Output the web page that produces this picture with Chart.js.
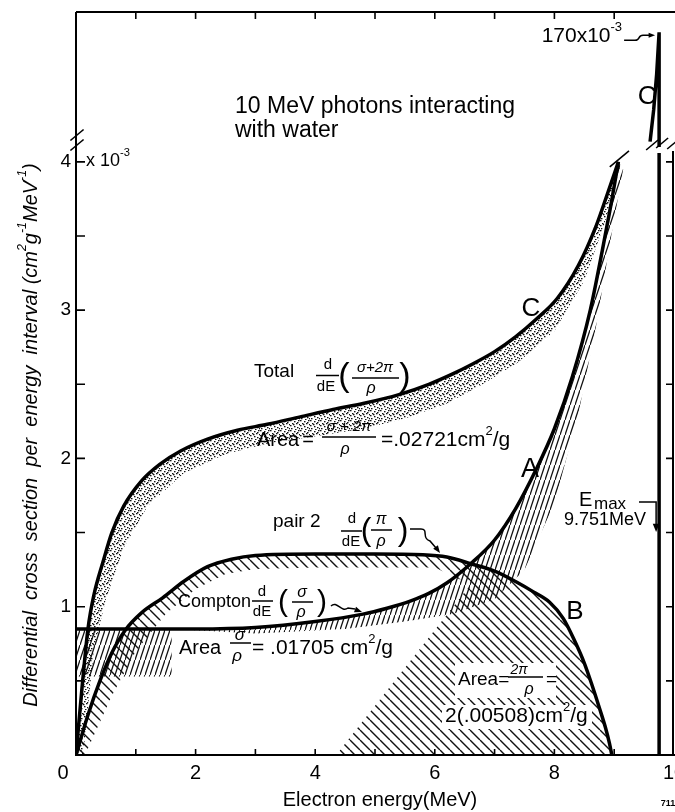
<!DOCTYPE html>
<html>
<head>
<meta charset="utf-8">
<title>10 MeV photons interacting with water</title>
<script src="https://cdn.jsdelivr.net/npm/chart.js@4.4.1/dist/chart.umd.min.js"></script>
<style>
  html, body { margin: 0; padding: 0; background: #fff; overflow: hidden; }
  canvas { display: block; }
</style>
</head>
<body>
<canvas id="myChart" width="700" height="812"></canvas>
<script>
/* globals Chart:false */

// tick labels
const xTickLabels = ['0', '2', '4', '6', '8', '10']
const yTickLabels = ['1', '2', '3', '4']

// curve C, total d/dE((σ+2π)/ρ), 10^-3 cm²g⁻¹MeV⁻¹, electron energy in MeV
const totalE = [0, 0.1, 0.2, 0.3, 0.45, 0.6, 0.8, 1.1, 1.4, 1.75, 2.2, 2.7, 3.2, 3.75, 4.3, 4.8, 5.4, 5.9, 6.3, 6.6, 7.0, 7.35, 7.7, 8.05, 8.4, 8.7, 8.9, 9.07]
const totalV = [0, 0.45, 0.85, 1.08, 1.3, 1.5, 1.68, 1.85, 1.96, 2.05, 2.13, 2.19, 2.23, 2.28, 2.33, 2.37, 2.43, 2.5, 2.57, 2.63, 2.72, 2.82, 2.94, 3.08, 3.3, 3.57, 3.8, 4.0]
// C above the axis break, on its own scale (10^-3)
const totalTopE = [9.6, 9.66, 9.71, 9.751, 9.751]
const totalTopV = [8, 55, 108, 170, 0]
// E max line below the break
const emaxE = [9.751, 9.751]
const emaxV = [0, 4.06]

// curve A, Compton d/dE(σ/ρ)
const comptonE = [0, 1, 2, 3, 4.0, 4.8, 5.2, 5.6, 5.9, 6.2, 6.6, 7.0, 7.35, 7.7, 8.0, 8.3, 8.6, 8.8, 8.95, 9.07]
const comptonV = [0.85, 0.85, 0.85, 0.86, 0.9, 0.95, 0.99, 1.04, 1.09, 1.16, 1.29, 1.45, 1.66, 1.93, 2.2, 2.55, 3.0, 3.4, 3.72, 4.0]

// curve B, pair 2 d/dE(π/ρ)
const pairE = [0, 0.2, 0.4, 0.6, 0.82, 1.1, 1.45, 1.8, 2.2, 2.6, 3.0, 4.0, 5.0, 5.8, 6.2, 6.6, 7.0, 7.35, 7.65, 7.92, 8.15, 8.35, 8.5, 8.63, 8.75, 8.85, 8.92, 8.96]
const pairV = [0, 0.27, 0.5, 0.69, 0.84, 0.96, 1.06, 1.17, 1.27, 1.32, 1.345, 1.355, 1.355, 1.35, 1.335, 1.29, 1.24, 1.17, 1.1, 1.03, 0.92, 0.76, 0.62, 0.47, 0.32, 0.19, 0.08, 0]

// inner edges of the shaded areas
const comptonBlockE = [0, 1.6, 1.6, 0]
const comptonBlockV = [0.85, 0.85, 0.53, 0.53]
const comptonEdgeE = [9.15, 8.95, 8.7, 8.4, 8.0, 7.5, 7.0, 6.3, 5.5, 4.5, 3.0, 1.6]
const comptonEdgeV = [3.95, 3.5, 2.9, 2.3, 1.7, 1.25, 1.05, 0.95, 0.9, 0.85, 0.82, 0.85]
const pairEdgeE = [4.35, 6.6, 6.0, 5.0, 4.0, 3.0, 2.5, 2.0, 1.5, 1.0, 0.6, 0.15]
const pairEdgeV = [0, 1.15, 1.265, 1.265, 1.265, 1.255, 1.22, 1.12, 0.95, 0.7, 0.4, 0]
const totalEdgeE = [9.1, 8.85, 8.5, 8.0, 7.4, 6.8, 6.2, 5.5, 4.8, 4.0, 3.2, 2.5, 1.8, 1.2, 0.8, 0.5, 0.3, 0.12]
const totalEdgeV = [3.97, 3.6, 3.2, 2.86, 2.65, 2.5, 2.37, 2.27, 2.2, 2.15, 2.1, 2.03, 1.9, 1.68, 1.4, 1.05, 0.72, 0]

const FONT = '"Liberation Sans", Arial, sans-serif'

const pts = (E, V) => E.map((e, i) => ({ x: e, y: V[i] }))

// fill patterns
function tile (w, h, draw) {
  const c = document.createElement('canvas')
  c.width = w
  c.height = h
  const g = c.getContext('2d')
  draw(g, w, h)
  return g.createPattern(c, 'repeat')
}
const slashHatch = tile(5, 15, (g, w, h) => {
  g.strokeStyle = '#111'
  g.lineWidth = 1.3
  g.beginPath()
  for (const k of [-1, 0, 1]) {
    g.moveTo(0, h + k * h)
    g.lineTo(w, k * h)
  }
  g.stroke()
})
const backHatch = tile(10, 10, (g, w, h) => {
  g.strokeStyle = '#111'
  g.lineWidth = 1.4
  g.beginPath()
  for (const k of [-1, 0, 1]) {
    g.moveTo(0, k * h)
    g.lineTo(w, h + k * h)
  }
  g.stroke()
})
const stipple = tile(10, 10, (g) => {
  g.fillStyle = '#111'
  const dots = [[0, 0], [4, 1], [8, 0], [2, 3], [6, 3], [9, 4], [0, 5], [4, 6], [7, 7], [1, 8], [5, 9], [9, 8], [3, 4], [7, 2]]
  for (const [dx, dy] of dots) g.fillRect(dx, dy, 1.5, 1.3)
})

const line = (data, axis = 'y', smooth = true) => ({
  data,
  yAxisID: axis,
  borderColor: '#000',
  borderWidth: 3.5,
  pointRadius: 0,
  fill: false,
  cubicInterpolationMode: smooth ? 'monotone' : 'default',
  tension: 0,
  order: 0
})
const shade = (data, bg) => ({
  data,
  yAxisID: 'y',
  borderColor: 'transparent',
  borderWidth: 0,
  pointRadius: 0,
  fill: 'shape',
  backgroundColor: bg,
  tension: 0,
  order: 5
})

const totalPts = pts(totalE, totalV)
const comptonPts = pts(comptonE, comptonV)
const pairPts = pts(pairE, pairV)

// shaded shapes: curve, then back along its inner edge
const totalShape = totalPts.concat(pts(totalEdgeE, totalEdgeV))
const comptonShape = comptonPts.filter(p => p.x >= 1.6).concat(pts(comptonEdgeE, comptonEdgeV))
const pairShape = pairPts.concat(pts(pairEdgeE, pairEdgeV))

function rich (ctx, parts, x, y, size, opts = {}) {
  const st = opts.style ? opts.style + ' ' : ''
  let w = 0
  const segs = parts.map(p => {
    const [t, k] = Array.isArray(p) ? p : [p, 0]
    const s = k ? size * 0.62 : size
    ctx.font = `${st}${s}px ${FONT}`
    const sw = ctx.measureText(t).width
    w += sw
    return { t, k, s, sw }
  })
  let cx = opts.align === 'center' ? x - w / 2 : opts.align === 'right' ? x - w : x
  ctx.textAlign = 'left'
  for (const g of segs) {
    ctx.font = `${st}${g.s}px ${FONT}`
    const dy = g.k === 1 ? -size * 0.42 : g.k === 2 ? size * 0.3 : 0
    ctx.fillText(g.t, cx, y + dy)
    cx += g.sw
  }
  return w
}
const txt = (ctx, s, x, y, size, align = 'left', style = '') => rich(ctx, [s], x, y, size, { align, style })

function bar (ctx, x1, x2, y) {
  ctx.lineWidth = 1.5
  ctx.beginPath()
  ctx.moveTo(x1, y)
  ctx.lineTo(x2, y)
  ctx.stroke()
}
function head (ctx, x, y, ang, len = 8) {
  ctx.beginPath()
  ctx.moveTo(x, y)
  ctx.lineTo(x - len * Math.cos(ang - 0.38), y - len * Math.sin(ang - 0.38))
  ctx.lineTo(x - len * Math.cos(ang + 0.38), y - len * Math.sin(ang + 0.38))
  ctx.closePath()
  ctx.fill()
}
function slash (ctx, x, y, len = 8) {
  ctx.beginPath()
  ctx.moveTo(x - len * 0.6, y + len * 0.5)
  ctx.lineTo(x + len * 0.6, y - len * 0.5)
  ctx.stroke()
}

const frame = {
  id: 'frame',
  afterDraw (chart) {
    const { ctx, chartArea: a, scales: { x, y, yTop } } = chart
    const L = a.left
    const R = a.right - 1
    const B = y.bottom
    const T = a.top
    ctx.save()
    ctx.strokeStyle = '#000'
    ctx.fillStyle = '#000'
    ctx.textBaseline = 'middle'

    // frame
    ctx.lineWidth = 2
    ctx.beginPath()
    ctx.moveTo(L, T)
    ctx.lineTo(a.right + 2, T)
    ctx.moveTo(L, T)
    ctx.lineTo(L, B)
    ctx.lineTo(a.right + 2, B)
    ctx.moveTo(R, y.top + 4)
    ctx.lineTo(R, B)
    ctx.stroke()

    // inward ticks
    ctx.lineWidth = 1.6
    ctx.beginPath()
    for (let v = 0.5; v <= 4; v += 0.5) {
      const py = y.getPixelForValue(v)
      ctx.moveTo(L, py)
      ctx.lineTo(L + 9, py)
      ctx.moveTo(R, py)
      ctx.lineTo(R - 7, py)
    }
    for (let e = 1; e < 10; e++) {
      const px = x.getPixelForValue(e)
      ctx.moveTo(px, B)
      ctx.lineTo(px, B - 6)
      ctx.moveTo(px, T)
      ctx.lineTo(px, T + 7)
    }
    ctx.stroke()

    // axis breaks
    ctx.lineWidth = 1.6
    slash(ctx, L + 1, y.top - 12, 11)
    slash(ctx, L + 1, y.top - 2, 11)
    const endX = x.getPixelForValue(comptonE[comptonE.length - 1])
    const endY = y.getPixelForValue(comptonV[comptonV.length - 1])
    slash(ctx, endX + 1, endY - 3, 16)
    const ex = x.getPixelForValue(emaxE[0])
    slash(ctx, ex - 7, y.top - 2, 10)
    slash(ctx, ex + 3, y.top - 4, 10)
    slash(ctx, R - 1, y.top - 2, 8)

    // tick labels
    for (const l of yTickLabels) txt(ctx, l, L - 5, y.getPixelForValue(+l), 19, 'right')
    for (const l of xTickLabels) {
      const px = x.getPixelForValue(+l) - (l === '0' ? 13 : 0)
      txt(ctx, l, px, B + 18, 20, 'center')
    }
    rich(ctx, ['x 10', ['-3', 1]], L + 10, y.getPixelForValue(4) - 1, 18)

    // axis titles
    txt(ctx, 'Electron energy(MeV)', 380, 800, 20, 'center')
    ctx.save()
    ctx.translate(31, 435)
    ctx.rotate(-Math.PI / 2)
    rich(ctx, ['Differential  cross  section  per  energy  interval (cm', ['2', 1], 'g', ['-1', 1], 'MeV', ['-1', 1], ')'], 0, 0, 20, { align: 'center', style: 'italic' })
    ctx.restore()

    // heading
    txt(ctx, '10 MeV photons interacting', 235, 107, 23)
    txt(ctx, 'with water', 235, 131, 23)

    // peak of C
    const tipX = ex - 4
    const tipY = yTop.getPixelForValue(totalTopV[3]) + 2
    rich(ctx, ['170x10', ['-3', 1]], tipX - 33, tipY + 2, 21, { align: 'right' })
    ctx.lineWidth = 1.5
    ctx.beginPath()
    ctx.moveTo(tipX - 31, tipY + 6)
    ctx.lineTo(tipX - 20, tipY + 6)
    ctx.bezierCurveTo(tipX - 14, tipY + 6, tipX - 18, tipY, tipX - 11, tipY + 1)
    ctx.lineTo(tipX - 6, tipY + 1)
    ctx.stroke()
    head(ctx, tipX, tipY + 1, 0, 7)

    // curve letters
    txt(ctx, 'C', ex - 12, yTop.getPixelForValue(75), 26, 'center')
    txt(ctx, 'C', 531, 309, 26, 'center')
    txt(ctx, 'A', 530, 470, 27, 'center')
    txt(ctx, 'B', 575, 612, 26, 'center')

    // total formula
    txt(ctx, 'Total', 254, 372, 19)
    txt(ctx, 'd', 328, 365, 15, 'center')
    bar(ctx, 316, 339, 375.5)
    txt(ctx, 'dE', 326, 387, 15, 'center')
    txt(ctx, '(', 344, 377, 34, 'center')
    txt(ctx, ')', 405, 377, 34, 'center')
    txt(ctx, 'σ+2π', 375, 368, 15, 'center', 'italic')
    bar(ctx, 352, 399, 378)
    txt(ctx, 'ρ', 371, 389, 16, 'center', 'italic')

    txt(ctx, 'Area', 257, 440, 20)
    txt(ctx, '=', 308, 440, 20, 'center')
    txt(ctx, 'σ + 2π', 349, 427, 15, 'center', 'italic')
    bar(ctx, 322, 376, 437)
    txt(ctx, 'ρ', 345, 450, 16, 'center', 'italic')
    rich(ctx, ['=.02721cm', ['2', 1], '/g'], 381, 440, 21)

    // pair formula
    txt(ctx, 'pair 2', 273, 522, 19)
    txt(ctx, 'd', 352, 519, 15, 'center')
    bar(ctx, 341, 362, 531)
    txt(ctx, 'dE', 351, 542, 15, 'center')
    txt(ctx, '(', 366, 531, 32, 'center')
    txt(ctx, ')', 403, 531, 32, 'center')
    txt(ctx, 'π', 381, 520, 16, 'center', 'italic')
    bar(ctx, 371, 392, 530)
    txt(ctx, 'ρ', 381, 542, 16, 'center', 'italic')
    ctx.lineWidth = 1.5
    ctx.beginPath()
    ctx.moveTo(410, 529)
    ctx.lineTo(421, 529)
    ctx.bezierCurveTo(429, 529, 421, 538, 430, 541)
    ctx.lineTo(436, 548)
    ctx.stroke()
    head(ctx, 440, 553, Math.atan2(1, 0.75), 8)

    // compton formula
    txt(ctx, 'Compton', 178, 602, 18)
    txt(ctx, 'd', 262, 592, 15, 'center')
    bar(ctx, 252, 273, 601)
    txt(ctx, 'dE', 262, 612, 15, 'center')
    txt(ctx, '(', 283, 603, 30, 'center')
    txt(ctx, ')', 322, 603, 30, 'center')
    txt(ctx, 'σ', 302, 593, 16, 'center', 'italic')
    bar(ctx, 292, 313, 602)
    txt(ctx, 'ρ', 301, 613, 16, 'center', 'italic')
    ctx.lineWidth = 1.5
    ctx.beginPath()
    ctx.moveTo(331, 606)
    ctx.bezierCurveTo(337, 600, 341, 613, 348, 608)
    ctx.lineTo(355, 609)
    ctx.stroke()
    head(ctx, 362, 612, 0.35, 8)

    txt(ctx, 'Area', 179, 648, 20)
    txt(ctx, 'σ', 240, 635, 17, 'center', 'italic')
    bar(ctx, 230, 251, 643)
    txt(ctx, 'ρ', 237, 656, 17, 'center', 'italic')
    rich(ctx, ['= .01705 cm', ['2', 1], '/g'], 252, 648, 21)

    // pair area, hatch cleared behind the text
    ctx.fillStyle = '#fff'
    ctx.fillRect(455, 663, 101, 35)
    ctx.fillRect(442, 705, 150, 24)
    ctx.fillStyle = '#000'
    txt(ctx, 'Area=', 458, 680, 19)
    rich(ctx, ['2', ['π', 0]], 519, 670, 14, { align: 'center', style: 'italic' })
    bar(ctx, 508, 543, 677)
    txt(ctx, 'ρ', 529, 690, 16, 'center', 'italic')
    txt(ctx, '=', 546, 680, 19)
    rich(ctx, ['2(.00508)cm', ['2', 1], '/g'], 445, 716, 21)

    // E max
    txt(ctx, 'E', 579, 500, 20)
    txt(ctx, 'max', 594, 504, 17)
    txt(ctx, '9.751MeV', 564, 520, 18)
    ctx.lineWidth = 1.5
    ctx.beginPath()
    ctx.moveTo(639, 502)
    ctx.lineTo(ex - 3, 502)
    ctx.lineTo(ex - 3, 524)
    ctx.stroke()
    head(ctx, ex - 3, 532, Math.PI / 2, 9)

    ctx.font = `bold 9px ${FONT}`
    ctx.textAlign = 'center'
    ctx.fillText('711', 668, 804)
    ctx.restore()
  }
}

// eslint-disable-next-line no-unused-vars
const myChart = new Chart(document.getElementById('myChart'), {
  type: 'line',
  data: {
    datasets: [
      line(totalPts),
      line(comptonPts),
      line(pairPts),
      line(pts(emaxE, emaxV), 'y', false),
      line(pts(totalTopE, totalTopV), 'yTop', false),
      shade(totalShape, stipple),
      shade(pts(comptonBlockE, comptonBlockV), slashHatch),
      shade(comptonShape, slashHatch),
      shade(pairShape, backHatch)
    ]
  },
  options: {
    responsive: false,
    animation: false,
    events: [],
    layout: { padding: { left: 76, right: 26, top: 12, bottom: 57 } },
    scales: {
      x: { type: 'linear', min: 0, max: 10, display: false },
      y: { type: 'linear', min: 0, max: 4.1, display: false, position: 'left', stack: 'v', stackWeight: 608 },
      yTop: { type: 'linear', min: 0, max: 200, display: false, position: 'left', stack: 'v', stackWeight: 135 }
    },
    plugins: {
      legend: { display: false },
      tooltip: { enabled: false }
    }
  },
  plugins: [frame]
})
</script>
</body>
</html>
